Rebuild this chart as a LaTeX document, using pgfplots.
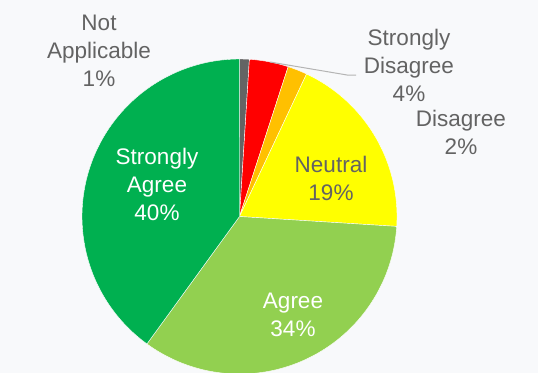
\documentclass[border=0pt]{standalone}
\usepackage{pgfplots}
\pgfplotsset{compat=1.18}
\usepackage{fontspec}
\setmainfont{Liberation Sans}
\definecolor{bg}{HTML}{F8F9FB}
\definecolor{lab}{HTML}{636363}
\definecolor{cNA}{HTML}{646464}
\definecolor{cSD}{HTML}{FF0000}
\definecolor{cD}{HTML}{FFC000}
\definecolor{cN}{HTML}{FFFF00}
\definecolor{cA}{HTML}{92D050}
\definecolor{cSA}{HTML}{00B050}
\definecolor{leader}{HTML}{B4B4B4}
\begin{document}
\begin{tikzpicture}
\begin{axis}[width=538bp,height=373bp,scale only axis,
  xmin=0,xmax=538,ymin=0,ymax=373,y dir=reverse,hide axis,clip=true,
  every axis plot/.append style={draw=white,line width=0.4bp}]
\fill[bg] (rel axis cs:0,0) rectangle (rel axis cs:1,1);
% slices: percentages 1, 4, 2, 19, 34, 40 (clockwise from 12 o'clock), 1% = 3.6 deg
\addplot[fill=cNA,domain=3.6*0:3.6*1,samples=10] ({239.5+157.5*sin(x)},{216.5-157.5*cos(x)}) -- (axis cs:239.5,216.5) -- cycle;
\addplot[fill=cSD,domain=3.6*1:3.6*5,samples=30] ({239.5+157.5*sin(x)},{216.5-157.5*cos(x)}) -- (axis cs:239.5,216.5) -- cycle;
\addplot[fill=cD,domain=3.6*5:3.6*7,samples=15] ({239.5+157.5*sin(x)},{216.5-157.5*cos(x)}) -- (axis cs:239.5,216.5) -- cycle;
\addplot[fill=cN,domain=3.6*7:3.6*26,samples=80] ({239.5+157.5*sin(x)},{216.5-157.5*cos(x)}) -- (axis cs:239.5,216.5) -- cycle;
\addplot[fill=cA,domain=3.6*26:3.6*60,samples=140] ({239.5+157.5*sin(x)},{216.5-157.5*cos(x)}) -- (axis cs:239.5,216.5) -- cycle;
\addplot[fill=cSA,domain=3.6*60:3.6*100,samples=160] ({239.5+157.5*sin(x)},{216.5-157.5*cos(x)}) -- (axis cs:239.5,216.5) -- cycle;
\draw[leader,line width=1bp] (axis cs:270,62) -- (axis cs:347,75) -- (axis cs:356,75);
\tikzset{lbl/.style={align=center,inner sep=0pt,font={\fontsize{22.5bp}{28bp}\selectfont}}}
\node[lbl,text=lab] at (axis cs:99,50.5) {Not\\Applicable\\1\%};
\node[lbl,text=lab] at (axis cs:409,65) {Strongly\\Disagree\\4\%};
\node[lbl,text=lab] at (axis cs:461,132.5) {Disagree\\2\%};
\node[lbl,text=lab] at (axis cs:331,178.5) {Neutral\\19\%};
\node[lbl,text=white] at (axis cs:157,184.5) {Strongly\\Agree\\40\%};
\node[lbl,text=white] at (axis cs:293,314.5) {Agree\\34\%};
\end{axis}
\end{tikzpicture}
\end{document}
